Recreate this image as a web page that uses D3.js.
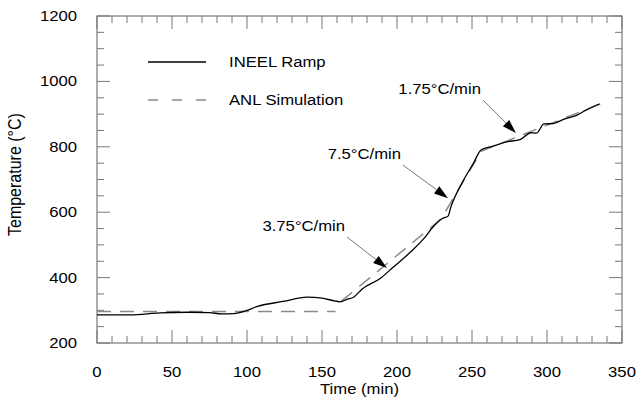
<!DOCTYPE html>
<html>
<head>
<meta charset="utf-8">
<script src="https://cdn.jsdelivr.net/npm/d3@7"></script>
<style>
    body { margin: 0; background: #fff; }
    text { font-family: "Liberation Sans", Arial, Helvetica, sans-serif; fill: #000; }
</style>
</head>
<body>
<div id="chart"></div>
<script>
// INEEL ramp measurement: [time (min), temperature (C)]
var ineelRamp = [
    [0, 286], [22, 286], [42, 292], [60, 294], [75, 293], [83, 289], [91, 290],
    [100, 300], [107, 312], [124, 327], [140, 340], [150, 337], [157, 330],
    [162, 326], [167, 334], [171, 340], [177, 366], [189, 398], [197, 430],
    [209, 478], [218, 520], [225, 560], [230, 580], [234, 588], [236, 617],
    [244, 695], [251, 750], [256, 790], [264, 802], [273, 815], [282, 822],
    [286, 835], [289, 843], [293, 842], [298, 870], [304, 871], [311, 884],
    [320, 897], [326, 912], [335, 931]
];
// ANL simulation: hold, then 3.75, 7.5 and 1.75 C/min ramps (null = break)
var anlSimulation = [
    [0, 296], [159, 296], null,
    [163, 328], [226, 566], [230, 584], [256, 786], [336, 932]
];
var xTicks = [0, 50, 100, 150, 200, 250, 300, 350];
var yTicks = [200, 400, 600, 800, 1000, 1200];
var legendLabels = ["INEEL Ramp", "ANL Simulation"];
// rate labels: text, arrow start and arrow tip in data units
var rateLabels = [
    { text: "3.75\u00b0C/min", from: [166.7, 524], to: [193.3, 429] },
    { text: "7.5\u00b0C/min", from: [204, 744], to: [234, 643] },
    { text: "1.75\u00b0C/min", from: [257.3, 943], to: [279.3, 842] }
];

var width = 639, height = 408;
var margin = { top: 16, right: 17, bottom: 65, left: 97 };
var plotW = width - margin.left - margin.right;
var plotH = height - margin.top - margin.bottom;
var sx = 1.15; // glyphs in the reference are a bit wide

var x = d3.scaleLinear().domain([0, 350]).range([0, plotW]);
var y = d3.scaleLinear().domain([200, 1200]).range([plotH, 0]);

var svg = d3.select("#chart").append("svg")
    .attr("width", width)
    .attr("height", height);
var g = svg.append("g")
    .attr("transform", "translate(" + margin.left + "," + margin.top + ")");

function label(parent, px, py, txt, size, anchor) {
    return parent.append("text")
        .attr("transform", "translate(" + px + "," + py + ") scale(" + sx + ",1)")
        .attr("text-anchor", anchor)
        .style("font-size", size + "px")
        .text(txt);
}

// ticks on all four sides, pointing inwards
var tickColor = "#777";
var xMinor = d3.range(0, 351, 10), yMinor = d3.range(200, 1201, 50);
xMinor.forEach(function (t) {
    var len = (t % 50 === 0) ? 13 : 7;
    g.append("line").attr("x1", x(t)).attr("x2", x(t)).attr("y1", plotH).attr("y2", plotH - len)
        .attr("stroke", tickColor);
    g.append("line").attr("x1", x(t)).attr("x2", x(t)).attr("y1", 0).attr("y2", len)
        .attr("stroke", tickColor);
});
yMinor.forEach(function (v) {
    var len = (v % 200 === 0) ? 13 : 7;
    g.append("line").attr("x1", 0).attr("x2", len).attr("y1", y(v)).attr("y2", y(v))
        .attr("stroke", tickColor);
    g.append("line").attr("x1", plotW).attr("x2", plotW - len).attr("y1", y(v)).attr("y2", y(v))
        .attr("stroke", tickColor);
});
g.append("rect")
    .attr("width", plotW).attr("height", plotH)
    .attr("fill", "none").attr("stroke", tickColor).attr("stroke-width", 1.2);

xTicks.forEach(function (t) { label(g, x(t), plotH + 34, t, 14.5, "middle"); });
yTicks.forEach(function (v) { label(g, -20, y(v) + 5, v, 14.5, "end"); });

label(g, plotW / 2, plotH + 51, "Time (min)", 14.5, "middle");
g.append("text")
    .attr("transform", "translate(-76," + y(715) + ") scale(" + sx + ",1) rotate(-90)")
    .attr("text-anchor", "middle")
    .style("font-size", "16px")
    .text("Temperature (\u00b0C)");

// series
var line = d3.line()
    .defined(function (d) { return d !== null; })
    .x(function (d) { return x(d[0]); })
    .y(function (d) { return y(d[1]); });

g.append("path")
    .datum(anlSimulation)
    .attr("d", line)
    .attr("fill", "none")
    .attr("stroke", "#8a8a8a")
    .attr("stroke-width", 1.5)
    .attr("stroke-dasharray", "14,9");

g.append("path")
    .datum(ineelRamp)
    .attr("d", line.curve(d3.curveMonotoneX))
    .attr("fill", "none")
    .attr("stroke", "#000")
    .attr("stroke-width", 1.3);

// legend
var lg = g.append("g").attr("transform", "translate(51,46)");
lg.append("line").attr("x1", 0).attr("x2", 58).attr("y1", 0).attr("y2", 0)
    .attr("stroke", "#000").attr("stroke-width", 1.3);
lg.append("line").attr("x1", 0).attr("x2", 58).attr("y1", 38).attr("y2", 38)
    .attr("stroke", "#8a8a8a").attr("stroke-width", 1.5).attr("stroke-dasharray", "10,14");
label(lg, 81, 5, legendLabels[0], 14.5, "start");
label(lg, 81, 43, legendLabels[1], 14.5, "start");

// rate annotations with arrows
rateLabels.forEach(function (r) {
    var x0 = x(r.from[0]), y0 = y(r.from[1]);
    var x1 = x(r.to[0]), y1 = y(r.to[1]);
    var ang = Math.atan2(y1 - y0, x1 - x0);
    var headLen = 14, headW = 4.5;
    var bx = x1 - headLen * Math.cos(ang), by = y1 - headLen * Math.sin(ang);
    g.append("line")
        .attr("x1", x0).attr("y1", y0).attr("x2", bx).attr("y2", by)
        .attr("stroke", "#555").attr("stroke-width", 0.8);
    var px = -Math.sin(ang) * headW, py = Math.cos(ang) * headW;
    g.append("path")
        .attr("d", "M" + x1 + "," + y1 + "L" + (bx + px) + "," + (by + py) +
            "L" + (bx - px) + "," + (by - py) + "Z")
        .attr("fill", "#000");
    label(g, x0 - 2, y0 - 6, r.text, 14.5, "end");
});
</script>
</body>
</html>
